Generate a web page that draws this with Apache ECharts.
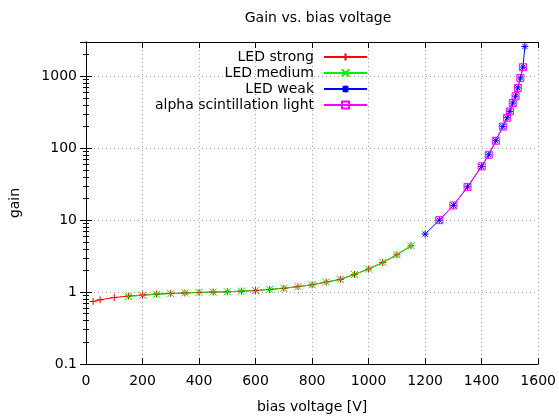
<!DOCTYPE html>
<html>
<head>
<meta charset="utf-8">
<script src="https://cdn.jsdelivr.net/npm/echarts@6/dist/echarts.min.js"></script>
<style>
  html, body { margin: 0; padding: 0; background: #fff; }
  #chart { width: 559px; height: 419px; }
</style>
</head>
<body>
<div id="chart"></div>
<script>
// data
const strongVolt = [25, 50, 100, 150, 200, 250, 300, 350, 400, 450, 500, 550, 600, 650, 700, 750, 800, 850, 900, 950, 1000, 1050, 1100, 1150];
const strongGain = [0.74, 0.78, 0.84, 0.88, 0.91, 0.94, 0.96, 0.97, 0.99, 1.0, 1.01, 1.03, 1.05, 1.09, 1.13, 1.19, 1.26, 1.38, 1.5, 1.76, 2.09, 2.58, 3.3, 4.4];
const mediumVolt = [150, 200, 250, 300, 350, 400, 450, 500, 550, 600, 650, 700, 750, 800, 850, 900, 950, 1000, 1050, 1100, 1150];
const mediumGain = [0.87, 0.9, 0.93, 0.95, 0.97, 0.99, 1.0, 1.01, 1.03, 1.05, 1.09, 1.13, 1.19, 1.26, 1.38, 1.5, 1.76, 2.09, 2.58, 3.3, 4.4];
const weakVolt = [1200, 1250, 1300, 1350, 1400, 1425, 1450, 1475, 1490, 1500, 1510, 1520, 1528, 1537, 1546, 1553];
const weakGain = [6.4, 10.0, 16.0, 29, 56, 81, 127, 200, 265, 325, 425, 530, 690, 950, 1340, 2600];
const alphaVolt = [1250, 1300, 1350, 1400, 1425, 1450, 1475, 1490, 1500, 1510, 1520, 1528, 1537, 1546];
const alphaGain = [10.0, 16.0, 29, 56, 81, 127, 200, 265, 325, 425, 530, 690, 950, 1340];
const xTicks = [0, 200, 400, 600, 800, 1000, 1200, 1400, 1600];
const yTicks = [0.1, 1, 10, 100, 1000];

const zip = (xs, ys) => xs.map((x, i) => [x, ys[i]]);
const font = "DejaVu Sans";
const fs = 14;

const makeSeries = (name, color, symbol, fill, data) => ({
  name: name,
  type: "line",
  xAxisIndex: 0,
  yAxisIndex: 0,
  data: data,
  symbol: symbol,
  symbolSize: 7,
  showAllSymbol: true,
  lineStyle: { color: color, width: 1 },
  itemStyle: { color: fill, borderColor: color, borderWidth: 1 },
  emphasis: { disabled: true },
});

const chart = echarts.init(document.getElementById("chart"));

const xBase = {
  type: "value",
  min: xTicks[0],
  max: xTicks[xTicks.length - 1],
  interval: 200,
  axisLine: { show: true, lineStyle: { color: "#000", width: 1 } },
  axisTick: { show: true, inside: true, length: 6, lineStyle: { color: "#000" } },
};
const yBase = {
  type: "log",
  logBase: 10,
  min: 0.1,
  max: 3000,
  axisLine: { show: true, lineStyle: { color: "#000", width: 1 } },
  axisTick: { show: true, inside: true, length: 6, lineStyle: { color: "#000" } },
  minorTick: { show: true, splitNumber: 9, length: 3, lineStyle: { color: "#000" } },
};

let option = {
  animation: false,
  backgroundColor: "#fff",
  textStyle: { fontFamily: font },
  title: {
    text: "Gain vs. bias voltage",
    left: 313,
    textAlign: "center",
    top: 6,
    textStyle: { fontFamily: font, fontSize: fs, fontWeight: "normal", color: "#000" },
  },
  legend: {
    orient: "vertical",
    right: 191,
    top: 50,
    padding: 0,
    align: "right",
    itemWidth: 43,
    itemHeight: 9,
    itemGap: 2,
    selectedMode: false,
    textStyle: { fontFamily: font, fontSize: fs, color: "#000", padding: [0, 5, 0, 0] },
    data: ["LED strong", "LED medium", "LED weak", "alpha scintillation light"],
  },
  grid: { left: 83, right: 19, top: 42, bottom: 54, containLabel: false },
  xAxis: [
    Object.assign({}, xBase, {
      position: "bottom",
      name: "bias voltage [V]",
      nameLocation: "middle",
      nameGap: 36,
      nameTextStyle: { fontFamily: font, fontSize: fs, color: "#000" },
      axisLabel: { margin: 10, fontFamily: font, fontSize: fs, color: "#000", formatter: (v) => String(v) },
      splitLine: { show: true, lineStyle: { color: "#a0a0a0", type: [1, 3], width: 1 } },
    }),
    Object.assign({}, xBase, {
      position: "top",
      axisLabel: { show: false },
      splitLine: { show: false },
    }),
  ],
  yAxis: [
    Object.assign({}, yBase, {
      position: "left",
      name: "gain",
      nameLocation: "middle",
      nameGap: 64,
      nameRotate: 90,
      nameTextStyle: { fontFamily: font, fontSize: fs, color: "#000" },
      axisLabel: {
        margin: 9,
        fontFamily: font,
        fontSize: fs,
        color: "#000",
        formatter: (v) => {
          const hit = yTicks.find((t) => Math.abs(t - v) / t < 1e-6);
          return hit === undefined ? "" : String(hit);
        },
      },
      splitLine: { show: true, lineStyle: { color: "#a0a0a0", type: [1, 3], width: 1 } },
    }),
    Object.assign({}, yBase, {
      position: "right",
      axisLabel: { show: false },
      splitLine: { show: false },
    }),
  ],
  series: [
    makeSeries("LED strong", "#ff0000", "path://M0,4L8,4M4,0L4,8", "#ff0000", zip(strongVolt, strongGain)),
    makeSeries("LED medium", "#00ee00", "path://M0,0L8,8M8,0L0,8", "#00ee00", zip(mediumVolt, mediumGain)),
    makeSeries("LED weak", "#0000ff", "path://M0,4L8,4M4,0L4,8M1,1L7,7M7,1L1,7", "#0000ff", zip(weakVolt, weakGain)),
    makeSeries("alpha scintillation light", "#ff00ff", "path://M0,0L8,0L8,8L0,8Z", "rgba(0,0,0,0)", zip(alphaVolt, alphaGain)),
  ],
};

chart.setOption(option);
</script>
</body>
</html>
